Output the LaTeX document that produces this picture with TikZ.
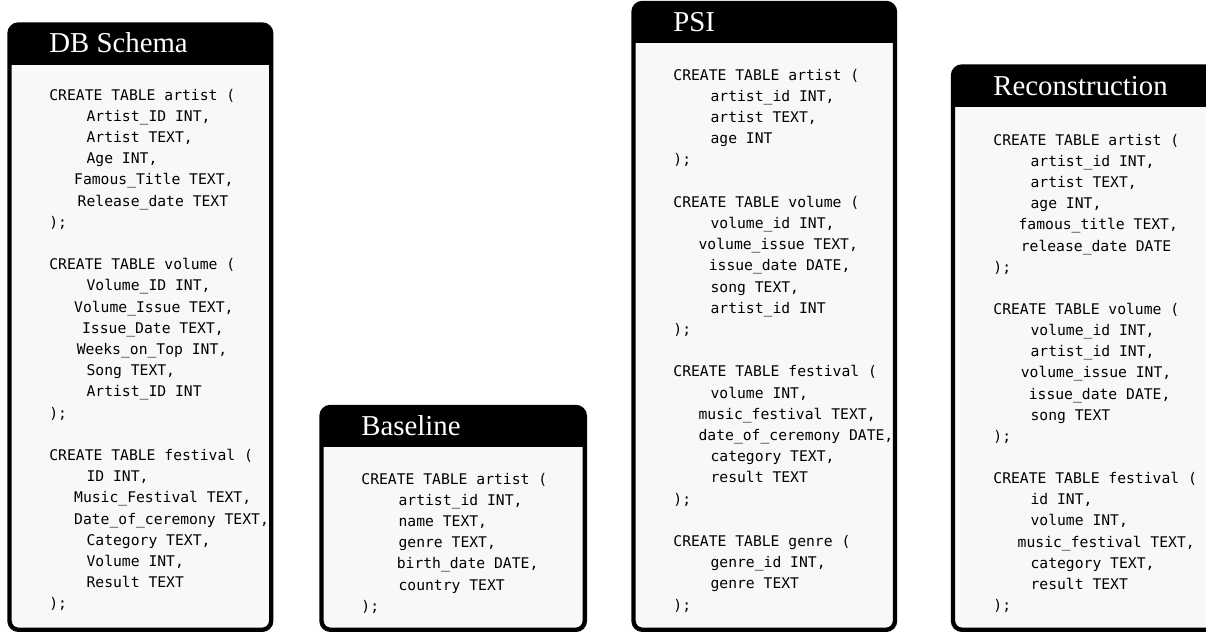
\documentclass[tikz,border=0pt]{standalone}
\usepackage{fontspec}
\setmainfont{Liberation Serif}
\newfontfamily\codefont{DejaVu Sans Mono}
\usepackage{tikz}
\usetikzlibrary{calc,positioning}
\definecolor{bodyfill}{RGB}{248,248,248}
\newlength{\sqlw}
\setlength{\sqlw}{4.425pt}
\newcommand{\sqi}[1]{\hspace*{#1\sqlw}}

\begin{document}
\begin{tikzpicture}[x=0.5pt,y=-0.5pt,
    frame/.style={draw=black,line width=2.2pt,rounded corners=4.5pt},
    ttl/.style={anchor=base west,inner sep=0pt,text=white,font=\fontsize{14.4}{17}\selectfont},
    sql/.style={anchor=base west,inner sep=0pt,text width=130pt,align=left,
      font=\fontsize{7.35}{10.6}\selectfont\codefont,
      execute at begin node={\spaceskip=0pt\xspaceskip=0pt\relax}}]
  \useasboundingbox (0,0) rectangle (1206,632);
  % panel frames: left/top/right/header bottom
  \foreach \l/\t/\r/\h in {9.5/24.5/271.2/65, 321.5/407/584.8/447, 633.5/3/895/43, 953/66.5/1216/107}{
    \begin{scope}
      \clip[rounded corners=4.5pt] (\l,\t) rectangle (\r,629.8);
      \fill[bodyfill] (\l,\t) rectangle (\r,629.8);
      \fill[black] (\l,\t) rectangle (\r,\h);
    \end{scope}
    \draw[frame] (\l,\t) rectangle (\r,629.8);
  }
  \node[ttl] (dbtitle) at (49,52) {DB Schema};
  \node[ttl] (basetitle) at (361,435) {Baseline};
  \node[ttl] (psititle) at (673,31.5) {PSI};
  \node[ttl] (rectitle) at (993,95) {Reconstruction};

  \node[sql] (dbcode) at (49,100) {CREATE TABLE artist (\\
    \sqi{4.2}Artist\_ID INT,\\
    \sqi{4.2}Artist TEXT,\\
    \sqi{4.2}Age INT,\\
    \sqi{2.8}Famous\_Title TEXT,\\
    \sqi{3.2}Release\_date TEXT\\
    );\\[10.6pt]
    CREATE TABLE volume (\\
    \sqi{4.2}Volume\_ID INT,\\
    \sqi{2.8}Volume\_Issue TEXT,\\
    \sqi{3.7}Issue\_Date TEXT,\\
    \sqi{3.1}Weeks\_on\_Top INT,\\
    \sqi{4.2}Song TEXT,\\
    \sqi{4.2}Artist\_ID INT\\
    );\\[10.6pt]
    CREATE TABLE festival (\\
    \sqi{4.2}ID INT,\\
    \sqi{2.8}Music\_Festival TEXT,\\
    \sqi{2.8}Date\_of\_ceremony TEXT,\\
    \sqi{4.2}Category TEXT,\\
    \sqi{4.2}Volume INT,\\
    \sqi{4.2}Result TEXT\\
    );};

  \node[sql] (basecode) at (361,484) {CREATE TABLE artist (\\
    \sqi{4.2}artist\_id INT,\\
    \sqi{4.2}name TEXT,\\
    \sqi{4.2}genre TEXT,\\
    \sqi{4.0}birth\_date DATE,\\
    \sqi{4.2}country TEXT\\
    );};

  \node[sql] (psicode) at (673,80) {CREATE TABLE artist (\\
    \sqi{4.2}artist\_id INT,\\
    \sqi{4.2}artist TEXT,\\
    \sqi{4.2}age INT\\
    );\\[10.6pt]
    CREATE TABLE volume (\\
    \sqi{4.2}volume\_id INT,\\
    \sqi{2.85}volume\_issue TEXT,\\
    \sqi{4.0}issue\_date DATE,\\
    \sqi{4.2}song TEXT,\\
    \sqi{4.2}artist\_id INT\\
    );\\[10.6pt]
    CREATE TABLE festival (\\
    \sqi{4.2}volume INT,\\
    \sqi{2.85}music\_festival TEXT,\\
    \sqi{2.85}date\_of\_ceremony DATE,\\
    \sqi{4.2}category TEXT,\\
    \sqi{4.2}result TEXT\\
    );\\[10.6pt]
    CREATE TABLE genre (\\
    \sqi{4.2}genre\_id INT,\\
    \sqi{4.2}genre TEXT\\
    );};

  \node[sql] (reccode) at (993,145) {CREATE TABLE artist (\\
    \sqi{4.2}artist\_id INT,\\
    \sqi{4.2}artist TEXT,\\
    \sqi{4.2}age INT,\\
    \sqi{2.85}famous\_title TEXT,\\
    \sqi{3.1}release\_date DATE\\
    );\\[10.4pt]
    CREATE TABLE volume (\\
    \sqi{4.2}volume\_id INT,\\
    \sqi{4.2}artist\_id INT,\\
    \sqi{3.1}volume\_issue INT,\\
    \sqi{4.0}issue\_date DATE,\\
    \sqi{4.2}song TEXT\\
    );\\[10.4pt]
    CREATE TABLE festival (\\
    \sqi{4.2}id INT,\\
    \sqi{4.2}volume INT,\\
    \sqi{2.75}music\_festival TEXT,\\
    \sqi{4.2}category TEXT,\\
    \sqi{4.2}result TEXT\\
    );};
\end{tikzpicture}
\end{document}
